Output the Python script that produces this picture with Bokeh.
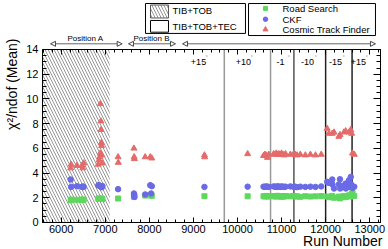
import math
from bokeh.plotting import figure
from bokeh.models import (Range1d, SingleIntervalTicker, LinearAxis, Label,
                          Arrow, NormalHead, ColumnDataSource)
from bokeh.embed import file_html
from bokeh.resources import INLINE

FONT = "Liberation Sans"

# ---------------- data ----------------
rs_runs = [6215, 6225, 6355, 6470, 6490, 6510, 6840, 6860, 6880, 6900, 6920, 6935,
           7290, 7650, 7660, 7905, 8020, 8055, 9250, 10230,
           10590, 10620, 10650, 10680, 10710, 10820, 10850, 10880, 10910, 10940,
           10970, 11000, 11030, 11060, 11090, 11200, 11275, 11310, 11350, 11425,
           11540, 11655, 11770, 11900,
           12035, 12075, 12150, 12190, 12300, 12325, 12415, 12455, 12530, 12570,
           12590, 12610, 12650]
rs_vals = [1.80, 1.86, 1.84, 1.86, 1.82, 1.86, 1.92, 1.95, 1.90, 1.94, 1.92, 1.90,
           1.94, 2.08, 2.12, 2.18, 2.20, 2.16, 2.13, 2.12,
           2.13, 2.10, 2.15, 2.12, 2.10, 2.14, 2.10, 2.12, 2.16, 2.11,
           2.13, 2.09, 2.12, 2.10, 2.14, 2.12, 2.15, 2.10, 2.12, 2.08,
           2.13, 2.10, 2.12, 2.14,
           2.10, 2.05, 2.15, 2.00, 2.10, 1.95, 2.15, 2.05, 2.20, 2.10,
           2.30, 2.40, 2.15]

ckf_runs = [6215, 6225, 6355, 6470, 6490, 6510, 6840, 6860, 6880, 6900, 6920, 6935,
            7290, 7650, 7655, 7660, 7905, 8020, 8040, 8055, 9250, 10230,
            10590, 10620, 10650, 10680, 10710, 10820, 10850, 10880, 10910, 10940,
            10970, 11000, 11030, 11060, 11090, 11200, 11275, 11310, 11350, 11425,
            11540, 11655, 11770, 11900,
            12035, 12075, 12150, 12155, 12190, 12300, 12325, 12330, 12415, 12455,
            12460, 12530, 12535, 12570, 12575, 12590, 12610, 12650]
ckf_vals = [3.48, 2.88, 2.94, 2.88, 2.92, 2.88, 3.00, 3.02, 2.95, 2.90, 2.85, 2.95,
            2.70, 2.35, 2.20, 2.07, 2.27, 3.02, 2.35, 2.94, 2.88, 2.90,
            2.90, 2.88, 2.92, 2.90, 2.88, 2.92, 2.90, 2.88, 2.93, 2.90,
            2.88, 2.92, 2.90, 2.88, 2.90, 2.92, 2.88, 2.90, 2.86, 2.90,
            2.88, 2.90, 2.88, 2.92,
            3.29, 3.20, 3.48, 3.08, 2.75, 3.08, 3.50, 2.75, 3.00, 3.15,
            2.75, 3.42, 2.88, 3.69, 3.10, 2.95, 2.80, 2.90]

ctf_runs = [6215, 6225, 6355, 6470, 6490, 6510, 6840, 6860, 6875, 6885, 6890, 6900,
            6905, 6910, 6915, 6920, 6930,
            7290, 7295, 7650, 7655, 7660, 7905, 8020, 8055, 9250, 9255, 10230,
            10590, 10620, 10650, 10680, 10710, 10820, 10850, 10880, 10910, 10940,
            10970, 11000, 11030, 11060, 11090, 11200, 11275, 11310, 11350, 11425,
            11540, 11655, 11770, 11900,
            12035, 12075, 12150, 12190, 12300, 12325, 12415, 12455, 12530, 12570,
            12590, 12610, 12650]
ctf_vals = [4.40, 4.70, 4.60, 4.60, 4.40, 4.80, 4.70, 5.05, 5.30, 5.60, 9.60, 8.20,
            7.50, 6.45, 6.20, 5.45, 4.80,
            5.30, 4.85, 6.00, 5.30, 5.15, 5.30, 5.30, 5.20, 5.45, 5.30, 5.55,
            5.40, 5.50, 5.45, 5.25, 5.50, 5.55, 5.50, 5.60, 5.50, 5.55,
            5.50, 5.60, 5.50, 5.45, 5.55, 5.50, 5.55, 5.50, 5.45, 5.50,
            5.45, 5.50, 5.45, 5.50,
            7.60, 7.20, 7.20, 7.30, 6.95, 7.10, 7.30, 7.40, 7.30, 7.50,
            7.20, 5.60, 5.50]

series_names = ["Road Search", "CKF", "Cosmic Track Finder"]
series_colors = ["#5fd75f", "#6a6ae6", "#e56a6a"]
series_markers = ["square", "circle", "triangle"]

geometry_names = ["TIB+TOB", "TIB+TOB+TEC"]
tibtob_edges = [5575, 7100]

boundary_runs = [9700, 10750, 11280, 12000, 12600]
boundary_colors = ["#9a9a9a", "#9a9a9a", "#555555", "#222222", "#222222"]
temp_labels = ["+15", "+10", "-1", "-10", "-15", "+15"]
temp_pos = [9115, 10136, 10975, 11588, 12223, 12745]

positions = ["Position A", "Position B", ""]
pos_start = [5757, 7526, 8752]
pos_end = [7383, 8593, 13131]
pos_text_x = [6551, 8048, None]

X_LO, X_HI = 5575, 13245
Y_LO, Y_HI = 0, 14

# ---------------- figure ----------------
# frame covers the whole canvas; axes are drawn at fixed data locations
p = figure(width=388, height=249, x_range=Range1d(4622, 13426.5), y_range=Range1d(-2.185, 17.965),
           output_backend="svg", toolbar_location=None, x_axis_type=None, y_axis_type=None,
           min_border_left=0, min_border_right=0, min_border_top=0, min_border_bottom=0)
p.title.visible = False
p.background_fill_color = "white"
p.border_fill_color = "white"
p.outline_line_color = None
p.grid.visible = False


def make_axis(ticker, loc, bounds, tick_len, minor_len, labels, standoff=3):
    ax = LinearAxis(ticker=ticker, fixed_location=loc, bounds=bounds)
    ax.axis_line_color = "black"
    ax.axis_line_width = 1
    ax.major_tick_line_color = "black"
    ax.minor_tick_line_color = "black"
    ax.major_tick_in = tick_len
    ax.major_tick_out = 0
    ax.minor_tick_in = minor_len
    ax.minor_tick_out = 0
    if labels:
        ax.major_label_text_font = FONT
        ax.major_label_text_font_size = "11px"
        ax.major_label_text_color = "black"
        ax.major_label_standoff = standoff
    else:
        ax.major_label_text_color = None
    return ax


p.add_layout(make_axis(SingleIntervalTicker(interval=1000, num_minor_ticks=5), Y_LO,
                       (X_LO, X_HI), 5, 3, True, 3), "below")
p.add_layout(make_axis(SingleIntervalTicker(interval=1000, num_minor_ticks=5), Y_HI,
                       (X_LO, X_HI), 5, 3, False), "above")
p.add_layout(make_axis(SingleIntervalTicker(interval=2, num_minor_ticks=4), X_LO,
                       (Y_LO, Y_HI), 7, 4, True, 4), "left")
p.add_layout(make_axis(SingleIntervalTicker(interval=2, num_minor_ticks=4), X_HI,
                       (Y_LO, Y_HI), 7, 4, False), "right")

HATCH = dict(fill_color="white", fill_alpha=0, hatch_pattern="\\", hatch_color="#8a8a8a",
             hatch_scale=6, hatch_weight=0.9)

# hatched TIB+TOB region
p.quad(left=[tibtob_edges[0]], right=[tibtob_edges[1]], bottom=[Y_LO], top=[Y_HI],
       line_color=None, **HATCH)

# configuration boundaries
p.segment(x0=boundary_runs, x1=boundary_runs, y0=[Y_LO] * len(boundary_runs),
          y1=[Y_HI] * len(boundary_runs), line_color=boundary_colors, line_width=1.5)

# data
runs_all = [rs_runs, ckf_runs, ctf_runs]
vals_all = [rs_vals, ckf_vals, ctf_vals]
sizes = [5, 5.5, 6]
for r, v, c, m, s in zip(runs_all, vals_all, series_colors, series_markers, sizes):
    src = ColumnDataSource(dict(x=r, y=v))
    p.scatter("x", "y", source=src, marker=m, size=s, fill_color=c, line_color=c)

# temperature labels
for t, xp in zip(temp_labels, temp_pos):
    p.add_layout(Label(x=xp, y=12.98, text=t, text_font=FONT, text_font_size="9px",
                       text_align="center", text_baseline="middle", text_color="black"))
    p.add_layout(Label(x=xp, y=12.98, text="°", text_font=FONT, text_font_size="6px",
                       text_align="left", text_baseline="middle", text_color="#999999",
                       x_offset=7, y_offset=5))

# position arrows
for name, xs, xe, xt_ in zip(positions, pos_start, pos_end, pos_text_x):
    p.add_layout(Arrow(x_start=xs, y_start=14.46, x_end=xe, y_end=14.46,
                       start=NormalHead(size=5, fill_color="white", line_color="#444444", line_width=1),
                       end=NormalHead(size=5, fill_color="white", line_color="#444444", line_width=1),
                       line_color="#666666", line_width=1))
    if name:
        p.add_layout(Label(x=xt_, y=14.55, text=name, text_font=FONT, text_font_size="8px",
                           text_align="center", text_baseline="bottom", text_color="black"))

# axis titles
p.add_layout(Label(x=13290, y=-1.46, text="Run Number", text_font=FONT, text_font_size="14px",
                   text_align="right", text_baseline="middle", text_color="black"))
p.add_layout(Label(x=4872, y=14.89, text="χ²/ndof (Mean)", text_font=FONT, text_font_size="14px",
                   text_align="right", text_baseline="middle", angle=math.pi / 2,
                   text_color="black"))

# ---------------- legend boxes (drawn above the frame) ----------------
# geometry legend
p.quad(left=[7912], right=[10181], bottom=[15.30], top=[17.72],
       fill_color="white", line_color="black", line_width=1)
p.quad(left=[8026], right=[8434], bottom=[16.55], top=[17.60], line_color="#333333",
       line_width=0.8, **HATCH)
p.quad(left=[8026], right=[8434], bottom=[15.40], top=[16.35], fill_color="white",
       line_color="black", line_width=1)
for name, yy in zip(geometry_names, [17.12, 15.86]):
    p.add_layout(Label(x=8525, y=yy, text=name, text_font=FONT, text_font_size="9.5px",
                       text_align="left", text_baseline="middle", text_color="black"))

# reconstruction legend
p.quad(left=[10250], right=[13131], bottom=[15.13], top=[17.72],
       fill_color="white", line_color="black", line_width=1)
leg_y = [17.32, 16.45, 15.62]
for name, c, m, s, yy in zip(series_names, series_colors, series_markers, sizes, leg_y):
    p.scatter([10635], [yy], marker=m, size=s - 1, fill_color=c, line_color=c)
    p.add_layout(Label(x=11021, y=yy, text=name, text_font=FONT, text_font_size="9.5px",
                       text_align="left", text_baseline="middle", text_color="black"))

open("out.html", "w").write(file_html(p, INLINE))
